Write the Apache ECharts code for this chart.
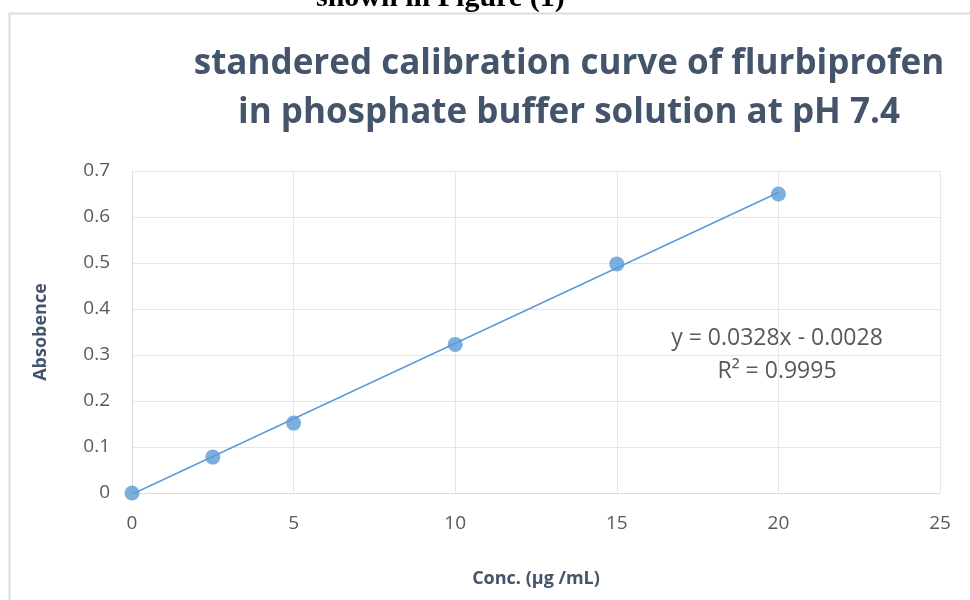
<!DOCTYPE html>
<html>
<head>
<meta charset="utf-8">
<script src="https://cdn.jsdelivr.net/npm/echarts@6/dist/echarts.min.js"></script>
<style>
  html, body { margin: 0; padding: 0; background: #fff; }
  #chart { width: 970px; height: 600px; }
</style>
</head>
<body>
<div id="chart"></div>
<script>
// measured points (conc, absorbance)
var concValues = [0, 2.5, 5, 10, 15, 20];
var absValues = [0, 0.078, 0.152, 0.323, 0.498, 0.650];
// linear trendline ends, y = 0.0328x - 0.0028
var trendConc = [0, 20];
var trendAbs = [-0.0028, 0.6532];
var eqnLines = ['y = 0.0328x - 0.0028', 'R\u00b2 = 0.9995'];

var points = concValues.map(function (c, i) { return [c, absValues[i]]; });
var trend = trendConc.map(function (c, i) { return [c, trendAbs[i]]; });

var chart = echarts.init(document.getElementById('chart'));
var option = {
  animation: false,
  backgroundColor: '#fff',
  title: {
    text: 'standered calibration curve of flurbiprofen\nin phosphate buffer solution at pH 7.4',
    left: 564,
    top: 35,
    textAlign: 'center',
    textStyle: {
      fontFamily: 'Open Sans',
      fontWeight: 'bold',
      fontSize: 35,
      lineHeight: 49,
      color: '#44546a'
    }
  },
  graphic: [
    {
      type: 'rect',
      shape: { x: 9.5, y: 13.5, width: 1000, height: 700 },
      style: { fill: null, stroke: '#d9dde3', lineWidth: 2 },
      silent: true
    },
    {
      type: 'text',
      left: 316,
      top: -17,
      style: {
        text: 'shown in Figure (1)',
        font: 'bold 30px "Liberation Serif"',
        fill: '#000'
      }
    },
    {
      type: 'text',
      x: 777,
      y: 338,
      style: {
        text: eqnLines[0],
        font: '23px "Open Sans"',
        fill: '#595959',
        align: 'center',
        verticalAlign: 'middle'
      }
    },
    {
      type: 'text',
      x: 777,
      y: 371,
      style: {
        text: eqnLines[1],
        font: '23px "Open Sans"',
        fill: '#595959',
        align: 'center',
        verticalAlign: 'middle'
      }
    }
  ],
  grid: { left: 132, right: 30, top: 171, bottom: 107 },
  xAxis: {
    type: 'value',
    min: 0,
    max: 25,
    interval: 5,
    name: 'Conc. (\u00b5g /mL)',
    nameLocation: 'middle',
    nameGap: 77,
    nameTextStyle: { fontFamily: 'Open Sans', fontWeight: 'bold', fontSize: 18, color: '#44546a' },
    axisLine: { show: true, lineStyle: { color: '#d9dde3', width: 1 } },
    axisTick: { show: false },
    axisLabel: { fontFamily: 'Open Sans', fontSize: 19, color: '#595959', margin: 21 },
    splitLine: { show: true, lineStyle: { color: '#e3e6eb', width: 1 } }
  },
  yAxis: {
    type: 'value',
    min: 0,
    max: 0.7,
    interval: 0.1,
    name: 'Absobence',
    nameLocation: 'middle',
    nameGap: 82,
    nameTextStyle: { fontFamily: 'Open Sans', fontWeight: 'bold', fontSize: 18, color: '#44546a' },
    axisLine: { show: true, lineStyle: { color: '#d9dde3', width: 1 } },
    axisTick: { show: false },
    axisLabel: { fontFamily: 'Open Sans', fontSize: 19, color: '#595959', margin: 22 },
    splitLine: { show: true, lineStyle: { color: '#e3e6eb', width: 1 } }
  },
  series: [
    {
      name: 'Trendline',
      type: 'line',
      data: trend,
      symbol: 'none',
      lineStyle: { color: '#5b9bd5', width: 1.5 },
      z: 2
    },
    {
      name: 'Absorbance',
      type: 'scatter',
      data: points,
      symbol: 'circle',
      symbolSize: 15,
      itemStyle: { color: '#5b9bd5' },
      z: 3
    }
  ]
};
chart.setOption(option);
</script>
</body>
</html>
